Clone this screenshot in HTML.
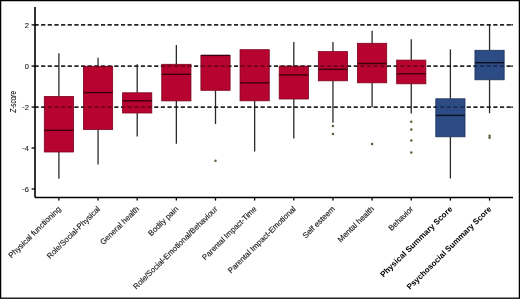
<!DOCTYPE html><html><head><meta charset="utf-8"><style>html,body{margin:0;padding:0;background:#fff;width:520px;height:299px;overflow:hidden}svg{display:block;will-change:transform}text{font-family:"Liberation Sans",sans-serif}</style></head><body>
<svg width="520" height="299" viewBox="0 0 520 299">
<rect x="0" y="0" width="520" height="299" fill="#fff"/>
<line x1="34.5" y1="24.9" x2="513.0" y2="24.9" stroke="#000" stroke-width="1.35" stroke-dasharray="4.1 2.55"/>
<line x1="511.2" y1="24.9" x2="513.0" y2="24.9" stroke="#000" stroke-width="1.35"/>
<line x1="34.5" y1="66.05" x2="513.0" y2="66.05" stroke="#000" stroke-width="1.35" stroke-dasharray="4.1 2.55"/>
<line x1="511.2" y1="66.05" x2="513.0" y2="66.05" stroke="#000" stroke-width="1.35"/>
<line x1="34.5" y1="107.05" x2="513.0" y2="107.05" stroke="#000" stroke-width="1.35" stroke-dasharray="4.1 2.55"/>
<line x1="511.2" y1="107.05" x2="513.0" y2="107.05" stroke="#000" stroke-width="1.35"/>
<line x1="58.90" y1="53.3" x2="58.90" y2="96.5" stroke="#2a2a2a" stroke-width="1.3"/>
<line x1="58.90" y1="152.0" x2="58.90" y2="178.7" stroke="#2a2a2a" stroke-width="1.3"/>
<rect x="44.30" y="96.5" width="29.2" height="55.50" fill="#b70330" stroke="#7a001c" stroke-width="0.8"/>
<line x1="44.30" y1="130.3" x2="73.50" y2="130.3" stroke="#3a000c" stroke-width="1.4"/>
<line x1="98.05" y1="57.8" x2="98.05" y2="66.3" stroke="#2a2a2a" stroke-width="1.3"/>
<line x1="98.05" y1="129.5" x2="98.05" y2="164.6" stroke="#2a2a2a" stroke-width="1.3"/>
<rect x="83.45" y="66.3" width="29.2" height="63.20" fill="#b70330" stroke="#7a001c" stroke-width="0.8"/>
<line x1="83.45" y1="92.6" x2="112.65" y2="92.6" stroke="#3a000c" stroke-width="1.4"/>
<line x1="137.20" y1="64.3" x2="137.20" y2="92.8" stroke="#2a2a2a" stroke-width="1.3"/>
<line x1="137.20" y1="113.0" x2="137.20" y2="136.4" stroke="#2a2a2a" stroke-width="1.3"/>
<rect x="122.60" y="92.8" width="29.2" height="20.20" fill="#b70330" stroke="#7a001c" stroke-width="0.8"/>
<line x1="122.60" y1="100.8" x2="151.80" y2="100.8" stroke="#3a000c" stroke-width="1.4"/>
<line x1="176.35" y1="45.0" x2="176.35" y2="64.3" stroke="#2a2a2a" stroke-width="1.3"/>
<line x1="176.35" y1="100.9" x2="176.35" y2="143.8" stroke="#2a2a2a" stroke-width="1.3"/>
<rect x="161.75" y="64.3" width="29.2" height="36.60" fill="#b70330" stroke="#7a001c" stroke-width="0.8"/>
<line x1="161.75" y1="74.3" x2="190.95" y2="74.3" stroke="#3a000c" stroke-width="1.4"/>
<line x1="215.50" y1="90.3" x2="215.50" y2="124.1" stroke="#2a2a2a" stroke-width="1.3"/>
<rect x="200.90" y="55.4" width="29.2" height="34.90" fill="#b70330" stroke="#7a001c" stroke-width="0.8"/>
<line x1="200.90" y1="55.4" x2="230.10" y2="55.4" stroke="#3a000c" stroke-width="1.4"/>
<circle cx="215.50" cy="160.7" r="1.25" fill="#55643d"/>
<line x1="254.65" y1="100.8" x2="254.65" y2="151.6" stroke="#2a2a2a" stroke-width="1.3"/>
<rect x="240.05" y="49.7" width="29.2" height="51.10" fill="#b70330" stroke="#7a001c" stroke-width="0.8"/>
<line x1="240.05" y1="82.8" x2="269.25" y2="82.8" stroke="#3a000c" stroke-width="1.4"/>
<line x1="293.80" y1="42.0" x2="293.80" y2="66.1" stroke="#2a2a2a" stroke-width="1.3"/>
<line x1="293.80" y1="99.0" x2="293.80" y2="138.5" stroke="#2a2a2a" stroke-width="1.3"/>
<rect x="279.20" y="66.1" width="29.2" height="32.90" fill="#b70330" stroke="#7a001c" stroke-width="0.8"/>
<line x1="279.20" y1="74.9" x2="308.40" y2="74.9" stroke="#3a000c" stroke-width="1.4"/>
<line x1="332.95" y1="42.0" x2="332.95" y2="51.6" stroke="#2a2a2a" stroke-width="1.3"/>
<line x1="332.95" y1="80.8" x2="332.95" y2="122.8" stroke="#2a2a2a" stroke-width="1.3"/>
<rect x="318.35" y="51.6" width="29.2" height="29.20" fill="#b70330" stroke="#7a001c" stroke-width="0.8"/>
<line x1="318.35" y1="69.4" x2="347.55" y2="69.4" stroke="#3a000c" stroke-width="1.4"/>
<circle cx="332.95" cy="126.0" r="1.25" fill="#55643d"/>
<circle cx="332.95" cy="134.1" r="1.25" fill="#55643d"/>
<line x1="372.10" y1="30.7" x2="372.10" y2="43.3" stroke="#2a2a2a" stroke-width="1.3"/>
<line x1="372.10" y1="82.8" x2="372.10" y2="107.3" stroke="#2a2a2a" stroke-width="1.3"/>
<rect x="357.50" y="43.3" width="29.2" height="39.50" fill="#b70330" stroke="#7a001c" stroke-width="0.8"/>
<line x1="357.50" y1="63.5" x2="386.70" y2="63.5" stroke="#3a000c" stroke-width="1.4"/>
<circle cx="372.10" cy="144.1" r="1.25" fill="#55643d"/>
<line x1="411.25" y1="39.3" x2="411.25" y2="60.1" stroke="#2a2a2a" stroke-width="1.3"/>
<line x1="411.25" y1="83.8" x2="411.25" y2="113.5" stroke="#2a2a2a" stroke-width="1.3"/>
<rect x="396.65" y="60.1" width="29.2" height="23.70" fill="#b70330" stroke="#7a001c" stroke-width="0.8"/>
<line x1="396.65" y1="73.8" x2="425.85" y2="73.8" stroke="#3a000c" stroke-width="1.4"/>
<circle cx="411.25" cy="121.8" r="1.25" fill="#55643d"/>
<circle cx="411.25" cy="129.6" r="1.25" fill="#55643d"/>
<circle cx="411.25" cy="140.5" r="1.25" fill="#55643d"/>
<circle cx="411.25" cy="152.5" r="1.25" fill="#55643d"/>
<line x1="450.40" y1="49.3" x2="450.40" y2="98.8" stroke="#2a2a2a" stroke-width="1.3"/>
<line x1="450.40" y1="136.8" x2="450.40" y2="178.5" stroke="#2a2a2a" stroke-width="1.3"/>
<rect x="435.80" y="98.8" width="29.2" height="38.00" fill="#2d4b84" stroke="#1c2f5a" stroke-width="0.8"/>
<line x1="435.80" y1="115.4" x2="465.00" y2="115.4" stroke="#0a0f22" stroke-width="1.4"/>
<line x1="489.55" y1="24.6" x2="489.55" y2="50.3" stroke="#2a2a2a" stroke-width="1.3"/>
<line x1="489.55" y1="79.8" x2="489.55" y2="113.3" stroke="#2a2a2a" stroke-width="1.3"/>
<rect x="474.95" y="50.3" width="29.2" height="29.50" fill="#2d4b84" stroke="#1c2f5a" stroke-width="0.8"/>
<line x1="474.95" y1="62.7" x2="504.15" y2="62.7" stroke="#0a0f22" stroke-width="1.4"/>
<circle cx="489.55" cy="135.8" r="1.25" fill="#55643d"/>
<circle cx="489.55" cy="137.8" r="1.25" fill="#55643d"/>
<line x1="34.5" y1="24.9" x2="513.0" y2="24.9" stroke="#000" stroke-width="1.35" stroke-dasharray="4.1 2.55" opacity="0.55"/>
<line x1="34.5" y1="66.05" x2="513.0" y2="66.05" stroke="#000" stroke-width="1.35" stroke-dasharray="4.1 2.55" opacity="0.55"/>
<line x1="34.5" y1="107.05" x2="513.0" y2="107.05" stroke="#000" stroke-width="1.35" stroke-dasharray="4.1 2.55" opacity="0.55"/>
<line x1="35.0" y1="7.0" x2="35.0" y2="197.5" stroke="#000" stroke-width="1.6"/>
<line x1="35.0" y1="197.5" x2="513.0" y2="197.5" stroke="#000" stroke-width="1.5"/>
<line x1="31.6" y1="24.9" x2="35.0" y2="24.9" stroke="#000" stroke-width="1.3"/>
<text x="28.8" y="27.60" font-size="7.5" text-anchor="end" fill="#1a1a1a" stroke="#1a1a1a" stroke-width="0.1">2</text>
<line x1="31.6" y1="66.05" x2="35.0" y2="66.05" stroke="#000" stroke-width="1.3"/>
<text x="28.8" y="68.75" font-size="7.5" text-anchor="end" fill="#1a1a1a" stroke="#1a1a1a" stroke-width="0.1">0</text>
<line x1="31.6" y1="107.05" x2="35.0" y2="107.05" stroke="#000" stroke-width="1.3"/>
<text x="28.8" y="109.75" font-size="7.5" text-anchor="end" fill="#1a1a1a" stroke="#1a1a1a" stroke-width="0.1"><tspan dy="-0.9">-</tspan><tspan dy="0.9">2</tspan></text>
<line x1="31.6" y1="148.0" x2="35.0" y2="148.0" stroke="#000" stroke-width="1.3"/>
<text x="28.8" y="150.70" font-size="7.5" text-anchor="end" fill="#1a1a1a" stroke="#1a1a1a" stroke-width="0.1"><tspan dy="-0.9">-</tspan><tspan dy="0.9">4</tspan></text>
<line x1="31.6" y1="189.0" x2="35.0" y2="189.0" stroke="#000" stroke-width="1.3"/>
<text x="28.8" y="191.70" font-size="7.5" text-anchor="end" fill="#1a1a1a" stroke="#1a1a1a" stroke-width="0.1"><tspan dy="-0.9">-</tspan><tspan dy="0.9">6</tspan></text>
<line x1="58.90" y1="197.5" x2="58.90" y2="200.6" stroke="#000" stroke-width="1.3"/>
<line x1="98.05" y1="197.5" x2="98.05" y2="200.6" stroke="#000" stroke-width="1.3"/>
<line x1="137.20" y1="197.5" x2="137.20" y2="200.6" stroke="#000" stroke-width="1.3"/>
<line x1="176.35" y1="197.5" x2="176.35" y2="200.6" stroke="#000" stroke-width="1.3"/>
<line x1="215.50" y1="197.5" x2="215.50" y2="200.6" stroke="#000" stroke-width="1.3"/>
<line x1="254.65" y1="197.5" x2="254.65" y2="200.6" stroke="#000" stroke-width="1.3"/>
<line x1="293.80" y1="197.5" x2="293.80" y2="200.6" stroke="#000" stroke-width="1.3"/>
<line x1="332.95" y1="197.5" x2="332.95" y2="200.6" stroke="#000" stroke-width="1.3"/>
<line x1="372.10" y1="197.5" x2="372.10" y2="200.6" stroke="#000" stroke-width="1.3"/>
<line x1="411.25" y1="197.5" x2="411.25" y2="200.6" stroke="#000" stroke-width="1.3"/>
<line x1="450.40" y1="197.5" x2="450.40" y2="200.6" stroke="#000" stroke-width="1.3"/>
<line x1="489.55" y1="197.5" x2="489.55" y2="200.6" stroke="#000" stroke-width="1.3"/>
<text x="0" y="0" font-size="8.8" font-style="italic" text-anchor="middle" textLength="21.8" lengthAdjust="spacingAndGlyphs" fill="#111" stroke="#111" stroke-width="0.12" transform="translate(15.9,101.9) rotate(-90)">Z-score</text>
<text x="0" y="0" font-size="7.9" stroke="#1a1a1a" stroke-width="0.15" text-anchor="end" textLength="69.8" lengthAdjust="spacingAndGlyphs" fill="#1a1a1a" transform="translate(61.40,209.5) rotate(-44.5)">Physical functioning</text>
<text x="0" y="0" font-size="7.9" stroke="#1a1a1a" stroke-width="0.15" text-anchor="end" textLength="71.0" lengthAdjust="spacingAndGlyphs" fill="#1a1a1a" transform="translate(100.55,209.5) rotate(-44.5)">Role/Social-Physical</text>
<text x="0" y="0" font-size="7.9" stroke="#1a1a1a" stroke-width="0.15" text-anchor="end" textLength="51.1" lengthAdjust="spacingAndGlyphs" fill="#1a1a1a" transform="translate(139.70,209.5) rotate(-44.5)">General health</text>
<text x="0" y="0" font-size="7.9" stroke="#1a1a1a" stroke-width="0.15" text-anchor="end" textLength="38.6" lengthAdjust="spacingAndGlyphs" fill="#1a1a1a" transform="translate(178.85,209.5) rotate(-44.5)">Bodily pain</text>
<text x="0" y="0" font-size="7.9" stroke="#1a1a1a" stroke-width="0.15" text-anchor="end" textLength="114.5" lengthAdjust="spacingAndGlyphs" fill="#1a1a1a" transform="translate(218.00,209.5) rotate(-44.5)">Role/Social-Emotional/Behaviour</text>
<text x="0" y="0" font-size="7.9" stroke="#1a1a1a" stroke-width="0.15" text-anchor="end" textLength="72.7" lengthAdjust="spacingAndGlyphs" fill="#1a1a1a" transform="translate(257.15,209.5) rotate(-44.5)">Parental Impact-Time</text>
<text x="0" y="0" font-size="7.9" stroke="#1a1a1a" stroke-width="0.15" text-anchor="end" textLength="91.6" lengthAdjust="spacingAndGlyphs" fill="#1a1a1a" transform="translate(296.30,209.5) rotate(-44.5)">Parental Impact-Emotional</text>
<text x="0" y="0" font-size="7.9" stroke="#1a1a1a" stroke-width="0.15" text-anchor="end" textLength="41.7" lengthAdjust="spacingAndGlyphs" fill="#1a1a1a" transform="translate(335.45,209.5) rotate(-44.5)">Self esteem</text>
<text x="0" y="0" font-size="7.9" stroke="#1a1a1a" stroke-width="0.15" text-anchor="end" textLength="47.4" lengthAdjust="spacingAndGlyphs" fill="#1a1a1a" transform="translate(374.60,209.5) rotate(-44.5)">Mental health</text>
<text x="0" y="0" font-size="7.9" stroke="#1a1a1a" stroke-width="0.15" text-anchor="end" textLength="31.2" lengthAdjust="spacingAndGlyphs" fill="#1a1a1a" transform="translate(413.75,209.5) rotate(-44.5)">Behavior</text>
<text x="0" y="0" font-size="8.15" font-weight="bold" text-anchor="end" textLength="97.4" lengthAdjust="spacingAndGlyphs" fill="#000" transform="translate(452.90,209.5) rotate(-44.5)">Physical Summary Score</text>
<text x="0" y="0" font-size="8.15" font-weight="bold" text-anchor="end" textLength="115.0" lengthAdjust="spacingAndGlyphs" fill="#000" transform="translate(492.05,209.5) rotate(-44.5)">Psychosocial Summary Score</text>
<rect x="0.6" y="0.6" width="518.8" height="297.6" fill="none" stroke="#000" stroke-width="1.3"/>
</svg></body></html>
